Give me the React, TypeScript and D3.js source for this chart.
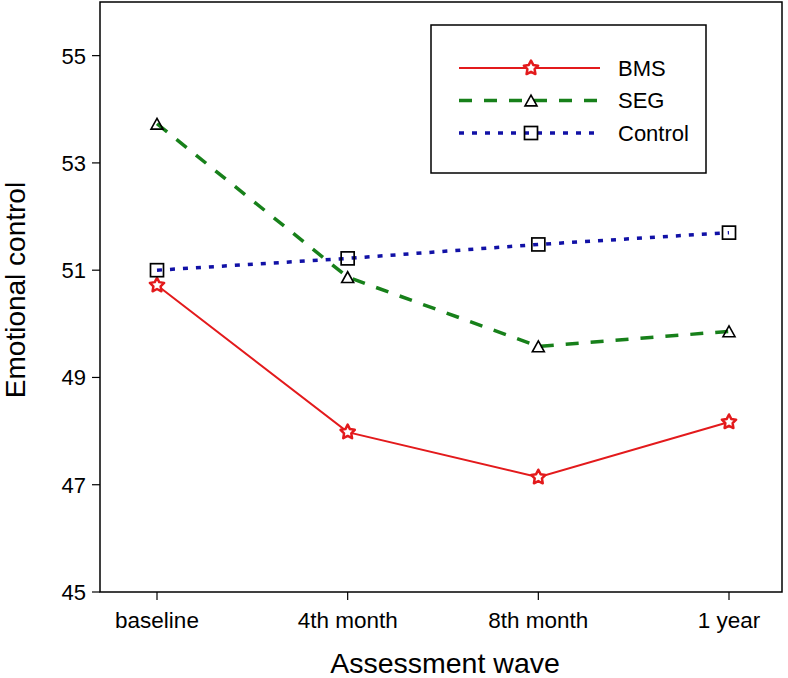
import React from "react";
import * as d3 from "d3";

const categories = ["baseline", "4th month", "8th month", "1 year"];
const bms = [50.72, 47.98, 47.14, 48.17];
const seg = [53.73, 50.87, 49.58, 49.86];
const control = [51.0, 51.22, 51.48, 51.7];
const yTicks = [45, 47, 49, 51, 53, 55];

const W = 788, H = 678;
const left = 100, right = 782, top = 2, bottom = 592;
const font = "Liberation Sans, Arial, sans-serif";

function starPath(cx: number, cy: number, R: number, r: number) {
  const pts: [number, number][] = [];
  for (let i = 0; i < 10; i++) {
    const a = -Math.PI / 2 + (i * Math.PI) / 5;
    const rad = i % 2 === 0 ? R : r;
    pts.push([cx + rad * Math.cos(a), cy + rad * Math.sin(a)]);
  }
  return "M" + pts.map((p) => p.join(",")).join("L") + "Z";
}

function triPath(cx: number, cy: number, s: number) {
  const h = s * 0.9;
  return `M${cx},${cy - h / 2}L${cx + s / 2},${cy + h / 2}L${cx - s / 2},${cy + h / 2}Z`;
}

export default function App() {
  const x = d3.scalePoint<string>().domain(categories).range([157, 729]);
  const y = d3.scaleLinear().domain([45, 56]).range([bottom, top]);
  const line = d3
    .line<number>()
    .x((_, i) => x(categories[i]) as number)
    .y((d) => y(d));

  const series = [
    { name: "BMS", data: bms, color: "#e31a1c", dash: "", width: 2, marker: "star" },
    { name: "SEG", data: seg, color: "#17801a", dash: "13,12", width: 3.5, marker: "tri" },
    { name: "Control", data: control, color: "#1111a6", dash: "5,8", width: 3.5, marker: "sq" },
  ];

  const marker = (m: string, cx: number, cy: number, key: string) => {
    if (m === "star")
      return <path key={key} d={starPath(cx, cy, 7.5, 3.8)} fill="white" stroke="#e31a1c" strokeWidth={2.5} strokeLinejoin="round" />;
    if (m === "tri")
      return <path key={key} d={triPath(cx, cy, 12)} fill="white" fillOpacity={0} stroke="#000" strokeWidth={1.6} />;
    return <rect key={key} x={cx - 6.5} y={cy - 6.5} width={13} height={13} fill="none" stroke="#000" strokeWidth={1.7} />;
  };

  return (
    <svg width={W} height={H} style={{ display: "block", position: "absolute", left: 0, top: 0 }} fontFamily={font}>
      <rect x={0} y={0} width={W} height={H} fill="white" />
      <rect x={left} y={top} width={right - left} height={bottom - top} fill="none" stroke="#000" strokeWidth={1.5} />
      {yTicks.map((t) => (
        <g key={t}>
          <line x1={left - 8} x2={left} y1={y(t)} y2={y(t)} stroke="#000" strokeWidth={1.2} />
          <text x={left - 14} y={y(t)} dy="0.36em" textAnchor="end" fontSize={22} fill="#000">{t}</text>
        </g>
      ))}
      {categories.map((c) => (
        <g key={c}>
          <line x1={x(c)} x2={x(c)} y1={bottom} y2={bottom + 8} stroke="#000" strokeWidth={1.2} />
          <text x={x(c)} y={bottom + 36} textAnchor="middle" fontSize={22.5} fill="#000">{c}</text>
        </g>
      ))}
      <text x={445} y={673} textAnchor="middle" fontSize={28.5} fill="#000">Assessment wave</text>
      <text transform={`translate(25,290) rotate(-90)`} textAnchor="middle" fontSize={28} fill="#000">Emotional control</text>
      {series.map((s) => (
        <path key={s.name} d={line(s.data) || ""} fill="none" stroke={s.color} strokeWidth={s.width} strokeDasharray={s.dash} />
      ))}
      {series.map((s) =>
        s.data.map((v, i) => marker(s.marker, x(categories[i]) as number, y(v), s.name + i))
      )}
      <rect x={431} y={25} width={275} height={148} fill="white" stroke="#000" strokeWidth={1.5} />
      {series.map((s, i) => {
        const ly = 68 + i * 32.5;
        return (
          <g key={s.name}>
            <line x1={459} x2={600} y1={ly} y2={ly} stroke={s.color} strokeWidth={s.width} strokeDasharray={s.dash} />
            {marker(s.marker, 531, ly, "leg" + i)}
            <text x={618} y={ly} dy="0.36em" fontSize={22} fill="#000">{s.name}</text>
          </g>
        );
      })}
    </svg>
  );
}
